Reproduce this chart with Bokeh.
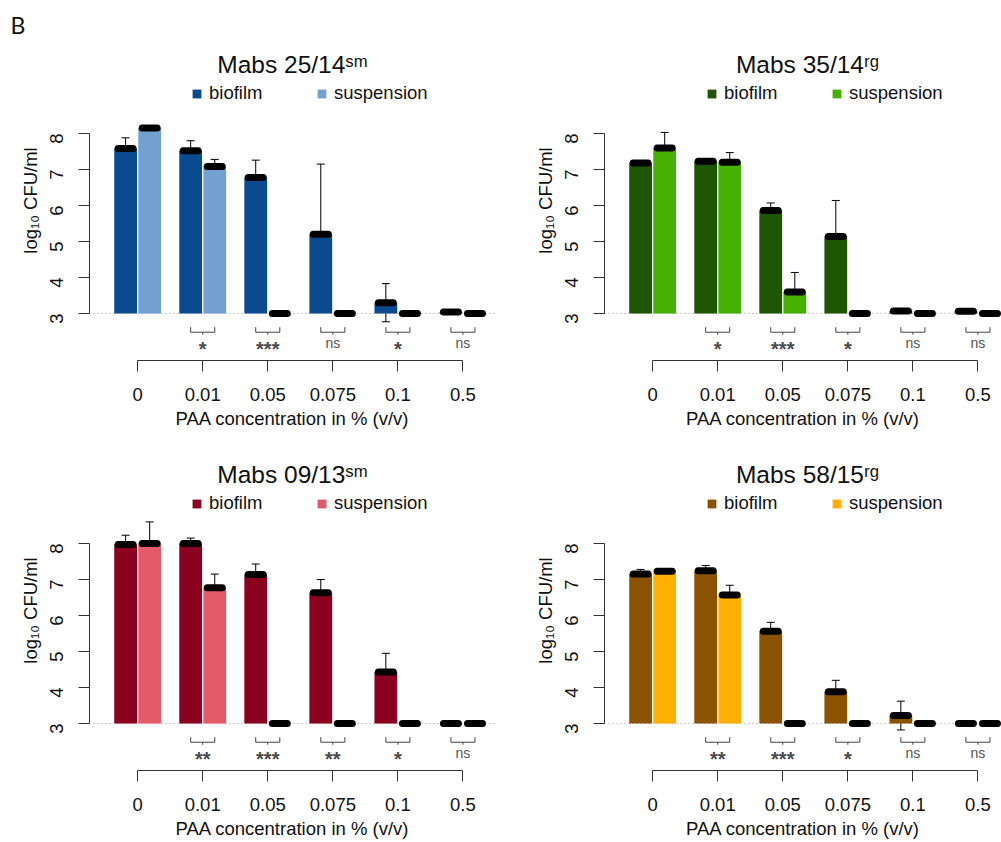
import math
import numpy as np
from bokeh.plotting import figure
from bokeh.models import (Range1d, FixedTicker, Span, Legend, LegendItem, Title,
                          Whisker, ColumnDataSource, TeeHead)
from bokeh.layouts import column, row
from bokeh.embed import file_html
from bokeh.resources import INLINE
from bokeh.core.properties import value

concentrations = ["0", "0.01", "0.05", "0.075", "0.1", "0.5"]

# Mabs 25/14 sm
biofilm_2514 = [7.58, 7.52, 6.78, 5.20, 3.30, 3.04]
biofilm_2514_sd = [0.30, 0.28, 0.48, 1.95, 0.53, 0.0]
suspension_2514 = [8.15, 7.08, 3.00, 3.00, 3.00, 3.00]
suspension_2514_sd = [0.02, 0.20, 0.0, 0.0, 0.0, 0.0]
signif_2514 = ["", "*", "***", "ns", "*", "ns"]

# Mabs 35/14 rg
biofilm_3514 = [7.18, 7.23, 5.86, 5.14, 3.07, 3.06]
biofilm_3514_sd = [0.03, 0.02, 0.21, 1.00, 0.0, 0.0]
suspension_3514 = [7.60, 7.20, 3.60, 3.00, 3.00, 3.00]
suspension_3514_sd = [0.43, 0.27, 0.54, 0.0, 0.0, 0.0]
signif_3514 = ["", "*", "***", "*", "ns", "ns"]

# Mabs 09/13 sm
biofilm_0913 = [7.97, 8.00, 7.14, 6.63, 4.43, 3.00]
biofilm_0913_sd = [0.26, 0.15, 0.29, 0.37, 0.52, 0.0]
suspension_0913 = [8.00, 6.77, 3.00, 3.00, 3.00, 3.00]
suspension_0913_sd = [0.60, 0.38, 0.0, 0.0, 0.0, 0.0]
signif_0913 = ["", "**", "***", "**", "*", "ns"]

# Mabs 58/15 rg
biofilm_5815 = [7.15, 7.24, 5.56, 3.88, 3.22, 3.00]
biofilm_5815_sd = [0.13, 0.15, 0.25, 0.32, 0.40, 0.0]
suspension_5815 = [7.23, 6.57, 3.00, 3.00, 3.00, 3.00]
suspension_5815_sd = [0.02, 0.27, 0.0, 0.0, 0.0, 0.0]
signif_5815 = ["", "**", "***", "*", "ns", "ns"]

FONT = "Liberation Sans"
DODGE = 0.185
BAR_W = 0.35
BASE = 3.0
PX_PER_Y = 36.0
PX_PER_X = 65.06
FRAME_H = 320
X_START = -0.74


def make_panel(title, bio, bio_sd, sus, sus_sd, signif, c_bio, c_sus,
               top_row, right_col, show_letter=False):
    n = len(concentrations)
    pos = np.arange(n, dtype=float)
    fw = 397 if right_col else 406
    x_end = X_START + fw / PX_PER_X
    y_start = BASE - 47 / PX_PER_Y
    p = figure(frame_width=fw, frame_height=FRAME_H,
               x_range=Range1d(X_START, x_end),
               y_range=Range1d(y_start, y_start + FRAME_H / PX_PER_Y),
               output_backend="svg", toolbar_location=None,
               min_border_left=89, min_border_right=0 if right_col else 20,
               min_border_top=40 if top_row else 10,
               min_border_bottom=80 if top_row else 70)
    p.outline_line_color = None
    p.xgrid.visible = False
    p.ygrid.visible = False
    p.background_fill_color = "white"
    p.border_fill_color = "white"

    # dotted baseline
    p.add_layout(Span(location=BASE, dimension="width", line_color="#9a9a9a",
                      line_dash="1 3", line_width=1, level="underlay"))

    src_b = ColumnDataSource(dict(x=pos - DODGE, top=bio))
    src_s = ColumnDataSource(dict(x=pos + DODGE, top=sus))
    rb = p.vbar(x="x", top="top", bottom=BASE, width=BAR_W, source=src_b,
                fill_color=c_bio, line_color=None)
    rs = p.vbar(x="x", top="top", bottom=BASE, width=BAR_W, source=src_s,
                fill_color=c_sus, line_color=None)

    # error bars
    for m, sd, off in ((bio, bio_sd, -DODGE), (sus, sus_sd, DODGE)):
        xs = [i + off for i in range(n) if sd[i] > 0]
        up = [m[i] + sd[i] for i in range(n) if sd[i] > 0]
        lo = [m[i] - sd[i] for i in range(n) if sd[i] > 0]
        wsrc = ColumnDataSource(dict(base=xs, upper=up, lower=lo))
        p.add_layout(Whisker(source=wsrc, base="base", upper="upper", lower="lower",
                             dimension="height", line_color="black", line_width=1,
                             upper_head=TeeHead(size=8, line_color="black", line_width=1),
                             lower_head=TeeHead(size=8, line_color="black", line_width=1)))

    # mean markers
    for m, off in ((bio, -DODGE), (sus, DODGE)):
        xs = pos + off
        p.segment(x0=xs - 0.115, x1=xs + 0.115, y0=m, y1=m, line_color="black",
                  line_width=7, line_cap="round")

    # significance brackets
    idx = [i for i in range(n) if signif[i]]
    bx = np.array(idx, dtype=float)
    y_h, y_top, y_dn = 2.48, 2.62, 2.41
    k = len(idx)
    bc = "#444444"
    p.segment(x0=bx - DODGE, x1=bx + DODGE, y0=[y_h] * k, y1=[y_h] * k,
              line_color=bc, line_width=1)
    p.segment(x0=bx - DODGE, x1=bx - DODGE, y0=[y_h] * k, y1=[y_top] * k,
              line_color=bc, line_width=1)
    p.segment(x0=bx + DODGE, x1=bx + DODGE, y0=[y_h] * k, y1=[y_top] * k,
              line_color=bc, line_width=1)
    p.segment(x0=bx, x1=bx, y0=[y_h] * k, y1=[y_dn] * k,
              line_color=bc, line_width=1)
    star_i = [i for i in idx if signif[i].startswith("*")]
    ns_i = [i for i in idx if signif[i] == "ns"]
    p.text(x=[float(i) for i in star_i], y=[2.17] * len(star_i),
           text=[signif[i] for i in star_i], text_font=value(FONT),
           text_font_size="20px", text_font_style="bold", text_color="#4a4a4a",
           text_align="center", text_baseline="middle", y_offset=6)
    p.text(x=[float(i) for i in ns_i], y=[2.17] * len(ns_i),
           text=[signif[i] for i in ns_i], text_font=value(FONT),
           text_font_size="14px", text_color="#555555",
           text_align="center", text_baseline="middle")

    # panel title (inside the tall frame, above the legend)
    p.text(x=[X_START + 406 / 2 / PX_PER_X], y=[9.93], text=[title],
           text_font=value(FONT), text_font_size="24.5px", text_color="#111111",
           text_align="center", text_baseline="middle")

    # axes
    xa = p.xaxis[0]
    xa.ticker = FixedTicker(ticks=list(range(n)))
    xa.major_label_overrides = {i: c for i, c in enumerate(concentrations)}
    xa.bounds = (0, n - 1)
    xa.axis_label = "PAA concentration in % (v/v)"
    ya = p.yaxis[0]
    ya.ticker = FixedTicker(ticks=[3, 4, 5, 6, 7, 8])
    ya.bounds = (3, 8)
    ya.axis_label = "log\u2081\u2080 CFU/ml"
    ya.major_label_orientation = math.pi / 2
    for ax in (xa, ya):
        ax.axis_line_color = "#333333"
        ax.major_tick_line_color = "#333333"
        ax.minor_tick_line_color = None
        ax.major_tick_out = 11
        ax.major_tick_in = 0
        ax.major_label_text_font = FONT
        ax.major_label_text_font_size = "18.5px"
        ax.major_label_text_color = "#111111"
        ax.axis_label_text_font = FONT
        ax.axis_label_text_font_size = "18.5px"
        ax.axis_label_text_font_style = "normal"
        ax.axis_label_text_color = "#111111"
    xa.major_label_standoff = 16
    xa.axis_label_standoff = 4
    ya.major_label_standoff = 22
    ya.axis_label_standoff = 0

    # legend inside the (taller) frame, above the bars
    legend = Legend(items=[LegendItem(label="biofilm", renderers=[rb]),
                           LegendItem(label="suspension", renderers=[rs])],
                    orientation="horizontal", location=(102, 256),
                    glyph_width=11, glyph_height=11, label_standoff=7,
                    label_width=100, spacing=7, padding=0, margin=0,
                    border_line_color=None, background_fill_alpha=0,
                    label_text_font=FONT, label_text_font_size="18.5px",
                    label_text_color="#111111")
    p.add_layout(legend)
    if show_letter:
        p.add_layout(Title(text="B", align="left", offset=-79, text_font="Lato",
                           text_font_size="23px", text_font_style="normal",
                           text_color="#111111", standoff=4), "above")
    return p


p1 = make_panel("Mabs 25/14\u02e2\u1d50", biofilm_2514, biofilm_2514_sd, suspension_2514,
                suspension_2514_sd, signif_2514, "#0B4A8E", "#72A0D0",
                True, False, show_letter=True)
p2 = make_panel("Mabs 35/14\u02b3\u1d4d", biofilm_3514, biofilm_3514_sd, suspension_3514,
                suspension_3514_sd, signif_3514, "#1E5500", "#45B000",
                True, True)
p3 = make_panel("Mabs 09/13\u02e2\u1d50", biofilm_0913, biofilm_0913_sd, suspension_0913,
                suspension_0913_sd, signif_0913, "#8A001E", "#E45A6A",
                False, False)
p4 = make_panel("Mabs 58/15\u02b3\u1d4d", biofilm_5815, biofilm_5815_sd, suspension_5815,
                suspension_5815_sd, signif_5815, "#8B5300", "#FFB000",
                False, True)

layout = column(row(p1, p2), row(p3, p4))
open("out.html", "w").write(file_html(layout, INLINE))
